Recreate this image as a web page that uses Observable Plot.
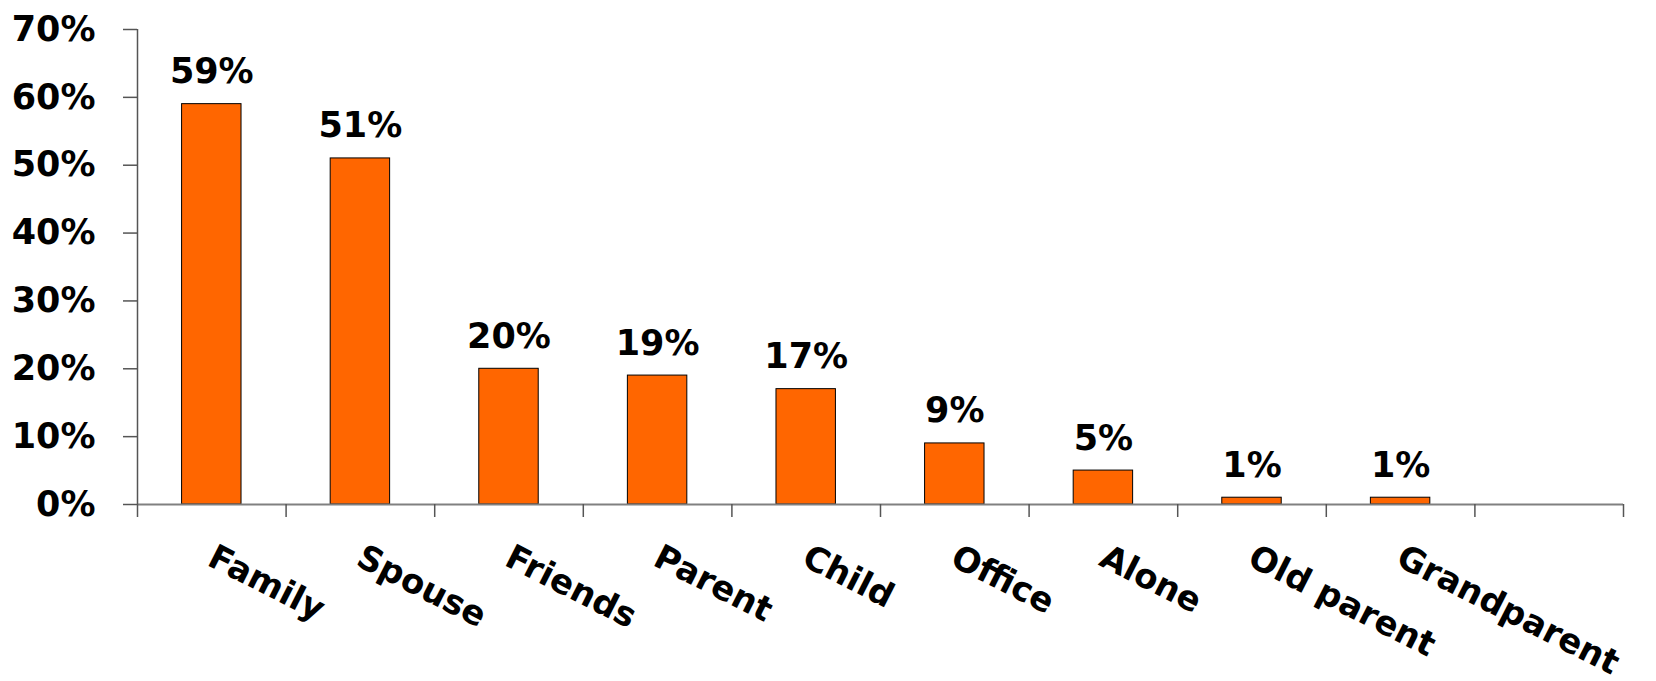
<!DOCTYPE html>
<html><head><meta charset="utf-8">
<script src="https://cdn.jsdelivr.net/npm/d3@7"></script>
<script src="https://cdn.jsdelivr.net/npm/@observablehq/plot@0.6"></script>
<style>body{margin:0;background:#fff;}</style>
</head><body><div id="chart"></div>
<script>
const categories = ["Family","Spouse","Friends","Parent","Child","Office","Alone","Old parent","Grandparent"];
const values = [59,51,20,19,17,9,5,1,1];
const yTicks = [0,10,20,30,40,50,60,70];
const slots = 10;

const data = categories.map((c,i)=>({category:c, value:values[i], i}));
const bandEdges = d3.range(slots+1);

const chart = Plot.plot({
  width:1656, height:681,
  marginLeft:137, marginRight:33, marginTop:29, marginBottom:177,
  x:{domain:[0,slots], axis:null},
  y:{domain:[0,70], axis:null},
  style:{fontFamily:"'DejaVu Sans', sans-serif", fontSize:"35px", fontWeight:"bold", color:"#000", background:"#fff", overflow:"visible"},
  marks:[
    Plot.rectY(data,{x1:d=>d.i+0.3, x2:d=>d.i+0.7, y1:0, y2:"value", fill:"#FF6600", stroke:"#000", strokeWidth:1}),
    Plot.ruleY([0],{stroke:"#808080", strokeWidth:2}),
    Plot.ruleX([0],{y1:0, y2:70, stroke:"#555", strokeWidth:1.5}),
    Plot.axisY({ticks:yTicks, tickSize:14, tickPadding:28, tickFormat:d=>d+"%", label:null, stroke:"#555", strokeWidth:1.5}),
    Plot.axisX({ticks:bandEdges, tickSize:13, tickFormat:()=>"", label:null, stroke:"#555", strokeWidth:1.5}),
    Plot.text(data,{x:d=>d.i+0.5, y:"value", text:d=>d.value+"%", dy:-21, lineAnchor:"bottom", textAnchor:"middle"}),
    Plot.text(data,{x:d=>d.i+0.5, y:()=>0, text:"category", rotate:27, fontSize:34, textAnchor:"start", lineAnchor:"bottom", dx:-6, dy:60})
  ]
});
document.getElementById("chart").appendChild(chart);
</script>
</body></html>
